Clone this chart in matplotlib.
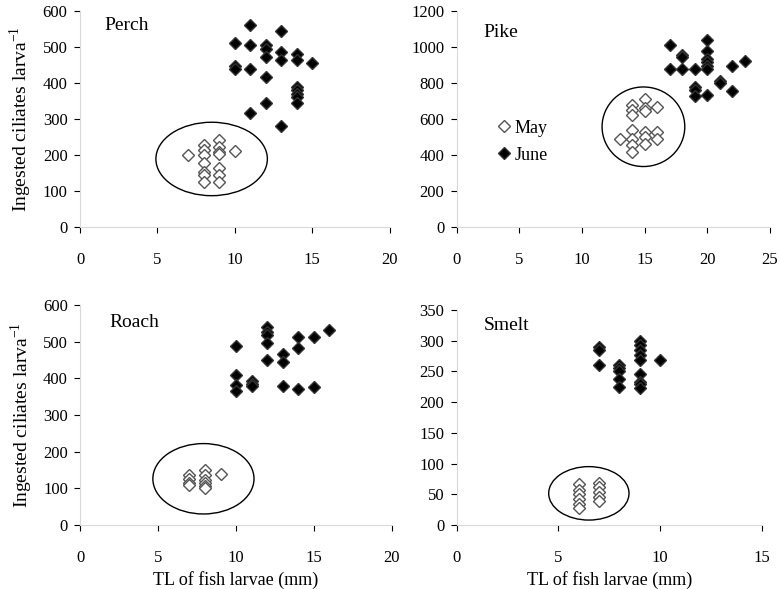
import matplotlib
matplotlib.use("Agg")
import matplotlib.pyplot as plt
from matplotlib.patches import Ellipse

plt.rcParams["font.family"] = ["Liberation Serif", "DejaVu Serif"]
plt.rcParams["font.size"] = 12

# Perch
perch_may_tl = [7, 8, 8, 8, 8, 8, 8, 8, 9, 9, 9, 9, 9, 9, 9, 10]
perch_may_cil = [200, 228, 214, 200, 177, 154, 145, 126, 242, 223, 209, 204, 163, 145, 126, 212]
perch_june_tl = [11, 13, 10, 11, 12, 12, 13, 14, 12, 13, 14, 15, 10, 10, 11, 12,
                 14, 14, 14, 14, 12, 14, 11, 13]
perch_june_cil = [560, 545, 510, 505, 505, 495, 487, 480, 473, 465, 465, 455, 448, 440, 438, 418,
                  390, 380, 370, 362, 344, 344, 317, 281]

# Pike
pike_may_tl = [15, 14, 14, 14, 15, 15, 16, 14, 15, 16, 13, 14, 15, 16, 14, 15, 14]
pike_may_cil = [713, 680, 651, 623, 660, 642, 664, 538, 528, 528, 491, 491, 500, 487, 453, 459, 415]
pike_june_tl = [17, 18, 18, 20, 20, 20, 20, 20, 20, 17, 18, 19, 22, 23, 21, 21, 19, 19, 19, 20, 22]
pike_june_cil = [1010, 953, 945, 1038, 980, 935, 915, 895, 878, 877, 877, 877, 893, 921, 811, 800,
                 778, 760, 727, 736, 755]

# Roach
roach_may_tl = [7, 7, 7, 7, 8, 8, 8, 8, 8, 8, 9]
roach_may_cil = [136, 125, 115, 109, 150, 136, 123, 114, 105, 100, 138]
roach_june_tl = [12, 12, 12, 12, 12, 10, 13, 13, 14, 14, 15, 16, 10, 10, 10, 11, 11, 11, 13, 14, 15]
roach_june_cil = [540, 527, 518, 495, 451, 488, 465, 445, 513, 484, 513, 533, 409, 383, 366,
                  393, 385, 378, 379, 370, 377]

# Smelt
smelt_may_tl = [6, 6, 6, 6, 6, 6, 7, 7, 7, 7, 7]
smelt_may_cil = [66, 57, 50, 42, 34, 27, 69, 62, 54, 46, 39]
smelt_june_tl = [7, 7, 7, 8, 8, 8, 8, 8, 9, 9, 9, 9, 9, 9, 9, 9, 9, 10]
smelt_june_cil = [290, 285, 261, 260, 255, 250, 238, 224, 300, 293, 285, 277, 269, 246, 233, 229, 223, 268]

panels = [
    ("Perch", perch_may_tl, perch_may_cil, perch_june_tl, perch_june_cil),
    ("Pike", pike_may_tl, pike_may_cil, pike_june_tl, pike_june_cil),
    ("Roach", roach_may_tl, roach_may_cil, roach_june_tl, roach_june_cil),
    ("Smelt", smelt_may_tl, smelt_may_cil, smelt_june_tl, smelt_june_cil),
]

# axes boxes (fig fractions), limits, ellipse around May data, title spot
boxes = [[0.1026, 0.6146, 0.397, 0.3667], [0.5855, 0.6146, 0.4017, 0.3667],
         [0.1032, 0.1087, 0.399, 0.3735], [0.5855, 0.1087, 0.391, 0.365]]
xlims = [(0, 20, 5), (0, 25, 5), (0, 20, 5), (0, 15, 5)]
ylims = [(0, 600, 100), (0, 1200, 200), (0, 600, 100), (0, 350, 50)]
ellipses = [((8.5, 189), 7.2, 204), ((14.9, 557), 6.6, 442),
            ((7.9, 126), 6.5, 192), ((6.5, 51.5), 3.95, 87)]
title_pos = [(0.08, 0.935), (0.085, 0.90), (0.092, 0.92), (0.09, 0.93)]

fig = plt.figure(figsize=(7.8, 5.89), dpi=100)
for i, (name, mx, my, jx, jy) in enumerate(panels):
    ax = fig.add_axes(boxes[i])
    ax.plot(mx, my, "D", ms=6, mfc="white", mec="#555555", mew=1.0, ls="none", label="May")
    ax.plot(jx, jy, "D", ms=6, mfc="black", mec="#333333", mew=1.0, ls="none", label="June")
    c, w, h = ellipses[i]
    ax.add_patch(Ellipse(c, w, h, fill=False, ec="black", lw=1.0))
    ax.set_xlim(xlims[i][0], xlims[i][1])
    ax.set_ylim(ylims[i][0], ylims[i][1])
    ax.set_xticks(range(xlims[i][0], xlims[i][1] + 1, xlims[i][2]))
    ax.set_yticks(range(ylims[i][0], ylims[i][1] + 1, ylims[i][2]))
    for s in ["top", "right"]:
        ax.spines[s].set_visible(False)
    for s in ["left", "bottom"]:
        ax.spines[s].set_color("#d9d9d9")
        ax.spines[s].set_linewidth(0.8)
    ax.tick_params(direction="out", length=4, width=0.8, color="black", labelsize=12, pad=5)
    ax.tick_params(axis="x", pad=14)
    ax.text(title_pos[i][0], title_pos[i][1], name, transform=ax.transAxes,
            fontsize=14, va="center", ha="left")
    if i % 2 == 0:
        ax.set_ylabel("Ingested ciliates larva$^{\\mathregular{-1}}$", fontsize=14, labelpad=6)
    if i >= 2:
        ax.set_xlabel("TL of fish larvae (mm)", fontsize=13, labelpad=4)
    if name == "Pike":
        ax.legend(loc="center left", bbox_to_anchor=(0.07, 0.395), frameon=False,
                  fontsize=13, handletextpad=0.1, handlelength=1.0, labelspacing=0.55)

fig.savefig("out.png", dpi=100, facecolor="white")
